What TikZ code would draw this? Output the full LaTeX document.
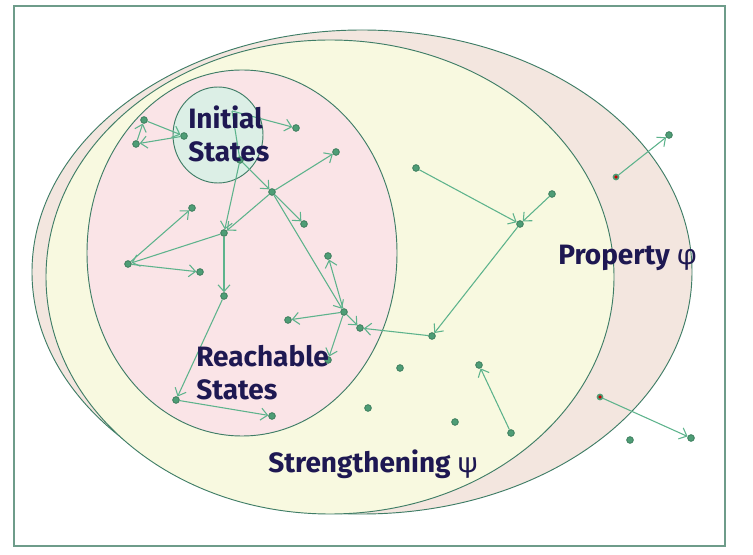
\documentclass[tikz,border=0pt]{standalone}
\usepackage{fontspec}
\setmainfont{Fira Sans}
\usetikzlibrary{arrows.meta}

\definecolor{framegreen}{HTML}{6E9C8A}
\definecolor{edgegreen}{HTML}{3F7D66}
\definecolor{dotgreen}{HTML}{4E9D76}
\definecolor{dotedge}{HTML}{3B7D5C}
\definecolor{arrowgreen}{HTML}{5DB38C}
\definecolor{badred}{HTML}{C80000}
\definecolor{propfill}{HTML}{F3E6DF}
\definecolor{strengthfill}{HTML}{F8F9E0}
\definecolor{reachfill}{HTML}{FAE4E7}
\definecolor{initfill}{HTML}{DCEFE6}
\definecolor{labelblue}{HTML}{1E1852}

\begin{document}
\begin{tikzpicture}[x=0.75pt,y=-0.75pt,
  state/.style={circle,fill=dotgreen,draw=dotedge,line width=0.6pt,inner sep=0pt,minimum size=5pt},
  badstate/.style={state,fill=badred,draw=dotgreen,line width=1.2pt,minimum size=3.8pt},
  trans/.style={draw=arrowgreen,line width=0.8pt,-{Straight Barb[length=5pt,width=9pt]}},
  region/.style={draw=edgegreen,line width=0.7pt},
  setlabel/.style={text=labelblue,font=\bfseries\fontsize{21}{24.75}\selectfont,inner sep=0pt,align=left}]

\useasboundingbox (0,0) rectangle (753,555);
\draw [framegreen,line width=1pt] (14,6) rectangle (725,546);

% the four sets
\path [region,fill=propfill]     (362,272) ellipse [x radius=330,y radius=242];
\path [region,fill=strengthfill] (330,277) ellipse [x radius=284,y radius=237];
\path [region,fill=reachfill]    (242,253) ellipse [x radius=155,y radius=183];
\path [region,fill=initfill]     (218,135) ellipse [x radius=45,y radius=48];

% reachable states
\coordinate (r-0) at (232,111);
\node [state] (r-1) at (144,120) {};
\node [state] (r-2) at (136,144) {};
\node [state] (r-3) at (184,136) {};
\node [state] (r-4) at (296,128) {};
\node [state] (r-5) at (240,160) {};
\node [state] (r-6) at (336,152) {};
\node [state] (r-7) at (272,192) {};
\node [state] (r-8) at (304,224) {};
\node [state] (r-9) at (192,208) {};
\node [state] (r-10) at (224,233) {};
\node [state] (r-11) at (128,264) {};
\node [state] (r-12) at (200,272) {};
\node [state] (r-13) at (328,256) {};
\node [state] (r-14) at (224,296) {};
\node [state] (r-15) at (344,312) {};
\node [state] (r-16) at (288,320) {};
\node [state] (r-17) at (360,328) {};
\node [state] (r-18) at (328,360) {};
\node [state] (r-19) at (176,400) {};
\node [state] (r-20) at (272,416) {};

\draw [trans] (r-1) -- (r-3);
\draw [trans] (r-3) -- (r-2);
\draw [trans] (r-2) -- (r-1);
\draw [trans] (r-0) -- (r-4);
\draw [draw=arrowgreen,line width=0.8pt] (r-0) -- (r-5);
\draw [trans] (r-5) -- (r-7);
\draw [trans] (r-5) -- (r-10);
\draw [trans] (r-7) -- (r-10);
\draw [trans] (r-7) -- (r-6);
\draw [trans] (r-7) -- (r-8);
\draw [trans] (r-7) -- (r-15);
\draw [trans] (r-10) -- (r-11);
\draw [trans] (r-11) -- (r-9);
\draw [trans] (r-11) -- (r-12);
\draw [trans] (r-10) -- (r-14);
\draw [trans] (r-15) -- (r-13);
\draw [trans] (r-15) -- (r-16);
\draw [trans] (r-15) -- (r-18);
\draw [trans] (r-15) -- (r-17);
\draw [trans] (r-14) -- (r-19);
\draw [trans] (r-19) -- (r-20);

% unreachable states
\node [state] (u-1) at (416,168) {};
\node [state] (u-2) at (520,224) {};
\node [state] (u-3) at (552,194) {};
\node [state] (u-4) at (432,336) {};
\node [state] (u-5) at (400,368) {};
\node [state] (u-6) at (479,365) {};
\node [state] (u-7) at (368,408) {};
\node [state] (u-8) at (455,422) {};
\node [state] (u-9) at (511,433) {};
\node [badstate] (u-10) at (600,397) {};
\node [state] (u-11) at (691,438) {};
\node [state] (u-12) at (630,440) {};
\node [badstate] (u-13) at (616,177) {};
\node [state] (u-14) at (669,135) {};

\draw [trans] (u-1) -- (u-2);
\draw [trans] (u-3) -- (u-2);
\draw [trans] (u-2) -- (u-4);
\draw [trans] (u-4) -- (r-17);
\draw [trans] (u-9) -- (u-6);
\draw [trans] (u-10) -- (u-11);
\draw [trans] (u-13) -- (u-14);

% labels
\node [setlabel,anchor=west] (init-text) at (188,134) {Initial\\States};
\node [setlabel,anchor=west] (reach-text) at (196,373) {Reachable\\States};
\node [setlabel,anchor=base west] (prop-text) at (558,265) {Property \textmd{φ}};
\node [setlabel,anchor=base west] (strength-text) at (268,473) {Strengthening \textmd{ψ}};

\end{tikzpicture}
\end{document}
